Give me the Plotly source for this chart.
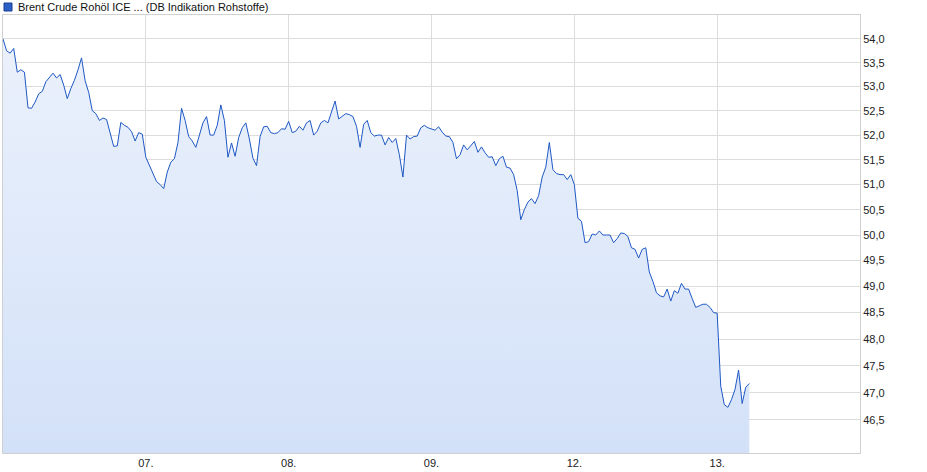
import math
import plotly.graph_objects as go

# ---------------- data ----------------
title_text = "Brent Crude Rohöl ICE ... (DB Indikation Rohstoffe)"
day_labels = ["07.", "08.", "09.", "12.", "13."]
points_per_day = 40  # samples per trading day

prices_06 = [54.0, 53.75, 53.7, 53.8, 53.3, 53.35, 53.3, 52.56, 52.55, 52.68,
             52.85, 52.9, 53.1, 53.2, 53.28, 53.18, 53.25, 53.03, 52.75, 52.96,
             53.13, 53.35, 53.6, 53.12, 52.88, 52.5, 52.44, 52.3, 52.35, 52.32,
             52.04, 51.77, 51.78, 52.26, 52.2, 52.16, 52.07, 51.88, 52.05, 52.02]
prices_07 = [51.55, 51.38, 51.2, 51.06, 51.0, 50.92, 51.25, 51.45, 51.52, 51.85,
             52.55, 52.3, 51.97, 51.88, 51.75, 52.0, 52.25, 52.38, 52.0, 52.0,
             52.2, 52.62, 52.3, 51.55, 51.84, 51.57, 51.95, 52.15, 52.25, 51.92,
             51.53, 51.38, 51.97, 52.17, 52.18, 52.05, 52.03, 52.05, 52.13, 52.12]
prices_08 = [52.28, 52.05, 52.08, 52.18, 52.1, 52.25, 52.3, 52.0, 52.08, 52.25,
             52.3, 52.25, 52.47, 52.7, 52.33, 52.38, 52.44, 52.42, 52.38, 52.18,
             51.75, 52.22, 52.3, 52.05, 51.98, 52.0, 52.0, 51.8, 51.95, 51.85,
             51.93, 51.6, 51.15, 52.0, 51.92, 51.97, 51.98, 52.15, 52.2, 52.15]
prices_09 = [52.13, 52.1, 52.17, 52.06, 51.98, 51.97, 51.85, 51.52, 51.6, 51.8,
             51.7, 51.78, 51.87, 51.65, 51.76, 51.64, 51.55, 51.56, 51.38, 51.52,
             51.57, 51.35, 51.33, 51.2, 50.88, 50.3, 50.5, 50.65, 50.72, 50.62,
             50.78, 51.15, 51.35, 51.85, 51.3, 51.22, 51.2, 51.2, 51.1, 51.2]
prices_12 = [51.0, 50.33, 50.27, 49.85, 49.87, 50.02, 50.0, 50.08, 50.0, 50.0,
             50.0, 49.85, 49.93, 50.04, 50.03, 49.97, 49.75, 49.72, 49.55, 49.72,
             49.75, 49.28, 49.1, 48.88, 48.82, 48.8, 48.95, 48.72, 48.92, 48.87,
             49.06, 48.95, 48.95, 48.77, 48.6, 48.63, 48.66, 48.66, 48.6, 48.5]
prices_13 = [48.49, 47.12, 46.78, 46.73, 46.87, 47.06, 47.42, 46.8, 47.1, 47.17]

y_ticks = [46.5, 47.0, 47.5, 48.0, 48.5, 49.0, 49.5, 50.0,
           50.5, 51.0, 51.5, 52.0, 52.5, 53.0, 53.5, 54.0]
y_min, y_max = 45.9, 54.51

# ---------------- figure ----------------
prices = prices_06 + prices_07 + prices_08 + prices_09 + prices_12 + prices_13
x_vals = [i / points_per_day for i in range(len(prices))]
tick_pos = list(range(1, len(day_labels) + 1))

W, H = 927, 472
ml, mr, mt, mb = 3, 67, 15, 19
pw, ph = W - ml - mr, H - mt - mb

line_col = "#1f58c4"
grid_col = "#dcdcdc"
font_fam = "Liberation Sans, Arial, sans-serif"

fig = go.Figure()
fig.add_trace(go.Scatter(
    x=x_vals, y=prices, mode="lines",
    line=dict(color=line_col, width=1),
    fill="tozeroy",
    fillgradient=dict(type="vertical",
                      colorscale=[[0, "#d3e1f8"], [1, "#ecf2fc"]],
                      start=y_min, stop=y_max),
    showlegend=False, hoverinfo="skip",
))

fig.update_layout(
    width=W, height=H,
    margin=dict(l=ml, r=mr, t=mt, b=mb, pad=0),
    paper_bgcolor="white", plot_bgcolor="white",
    separators=",.",
    font=dict(family=font_fam, size=11, color="#222222"),
    xaxis=dict(range=[0, len(day_labels) + 1], tickvals=tick_pos, ticktext=day_labels,
               showgrid=True, gridcolor=grid_col, gridwidth=1, zeroline=False,
               showline=True, mirror=True, linecolor="#d0d0d0", linewidth=1,
               ticks="", tickfont=dict(size=11, color="#222222")),
    yaxis=dict(type="log", range=[math.log10(y_min), math.log10(y_max)],
               side="right", tickvals=y_ticks, tickformat=".1f",
               showgrid=True, gridcolor=grid_col, gridwidth=1, zeroline=False,
               showline=True, mirror=True, linecolor="#d0d0d0", linewidth=1,
               ticks="", tickfont=dict(size=11, color="#222222")),
)

# legend-like header: swatch + text
fig.add_shape(type="rect", xref="paper", yref="paper",
              x0=(4 - ml) / pw, x1=(12 - ml) / pw,
              y0=1 + (mt - 11) / ph, y1=1 + (mt - 3) / ph,
              fillcolor="#2a5fc8", line=dict(color="#1b3f8f", width=1))
fig.add_annotation(text=title_text, xref="paper", yref="paper",
                   x=(16 - ml) / pw, y=1 + (mt - 7) / ph,
                   xanchor="left", yanchor="middle", showarrow=False,
                   font=dict(family=font_fam, size=11, color="#111111"))

fig.write_html(
    "out.html",
    config={"displayModeBar": False},
    post_script="document.body.style.margin='0';document.body.style.padding='0';"
                "document.documentElement.style.overflow='hidden';",
)
